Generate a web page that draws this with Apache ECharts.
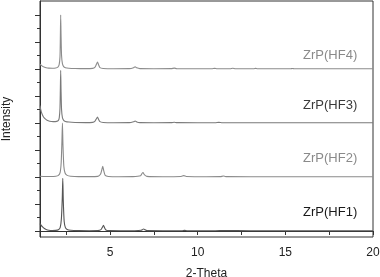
<!DOCTYPE html>
<html><head><meta charset="utf-8">
<script src="https://cdn.jsdelivr.net/npm/echarts@6/dist/echarts.min.js"></script>
<style>html,body{margin:0;padding:0;background:#fff}#c{width:380px;height:277px}</style>
</head><body><div id="c"></div>
<script>
// Series names / labels
const seriesNames = ['ZrP(HF1)', 'ZrP(HF2)', 'ZrP(HF3)', 'ZrP(HF4)'];
// Vertical offsets used to stack the patterns (intensity units)
const offsets = [0, 4, 8, 12];
// X tick labels
const xTickLabels = [5, 10, 15, 20];
const xTicks = [2.5, 5, 7.5, 10, 12.5, 15, 17.5, 20];

// 2-Theta and intensity (relative to each pattern's baseline)
const hf1X = [1.0, 1.08, 1.16, 1.25, 1.35, 1.5, 1.7, 1.9, 2.05, 2.15, 2.22, 2.27, 2.3, 2.33, 2.38, 2.45, 2.55, 2.75, 3.2, 3.8, 4.3, 4.48, 4.56, 4.62, 4.68, 4.76, 4.95, 5.6, 6.4, 6.78, 6.86, 6.92, 6.98, 7.1, 8.0, 9.1, 9.25, 9.4, 11.0, 11.5, 13.0, 16.0, 20.0];
const hf1Y = [0.55, 0.4, 0.28, 0.18, 0.11, 0.06, 0.04, 0.05, 0.1, 0.25, 0.9, 2.4, 3.9, 2.2, 0.7, 0.25, 0.12, 0.06, 0.03, 0.02, 0.03, 0.1, 0.28, 0.42, 0.25, 0.08, 0.03, 0.02, 0.02, 0.05, 0.12, 0.15, 0.1, 0.03, 0.02, 0.02, 0.05, 0.02, 0.02, 0.04, 0.02, 0.02, 0.02];

const hf2X = [1.0, 1.3, 1.6, 1.9, 2.05, 2.15, 2.21, 2.25, 2.28, 2.31, 2.36, 2.43, 2.55, 2.75, 3.2, 3.8, 4.3, 4.45, 4.52, 4.58, 4.64, 4.72, 4.9, 5.5, 6.3, 6.74, 6.82, 6.88, 6.95, 7.1, 8.0, 9.05, 9.2, 9.35, 10.5, 11.3, 11.46, 11.6, 13.0, 16.0, 20.0];
const hf2Y = [0.06, 0.04, 0.04, 0.06, 0.12, 0.35, 1.1, 2.6, 4.0, 2.4, 0.8, 0.3, 0.12, 0.06, 0.03, 0.03, 0.05, 0.2, 0.5, 0.8, 0.45, 0.12, 0.04, 0.02, 0.03, 0.1, 0.26, 0.33, 0.18, 0.05, 0.02, 0.04, 0.1, 0.04, 0.02, 0.03, 0.07, 0.03, 0.02, 0.02, 0.02];

const hf3X = [1.0, 1.05, 1.1, 1.2, 1.3, 1.4, 1.55, 1.75, 1.95, 2.05, 2.1, 2.14, 2.16, 2.18, 2.2, 2.23, 2.28, 2.35, 2.45, 2.65, 3.0, 3.6, 4.0, 4.14, 4.22, 4.28, 4.34, 4.42, 4.6, 5.2, 6.1, 6.34, 6.43, 6.52, 6.7, 7.5, 8.5, 8.66, 8.8, 10.0, 11.0, 11.2, 11.4, 12.5, 16.0, 20.0];
const hf3Y = [1.3, 0.95, 0.72, 0.45, 0.3, 0.2, 0.13, 0.1, 0.12, 0.2, 0.4, 1.1, 2.4, 3.9, 2.5, 1.0, 0.4, 0.2, 0.12, 0.07, 0.04, 0.03, 0.05, 0.14, 0.32, 0.45, 0.28, 0.1, 0.04, 0.02, 0.03, 0.1, 0.15, 0.08, 0.03, 0.02, 0.03, 0.06, 0.03, 0.02, 0.02, 0.05, 0.02, 0.02, 0.02, 0.02];

const hf4X = [1.0, 1.1, 1.2, 1.35, 1.5, 1.7, 1.9, 2.02, 2.09, 2.14, 2.16, 2.18, 2.2, 2.23, 2.28, 2.35, 2.45, 2.65, 3.0, 3.6, 4.0, 4.14, 4.22, 4.28, 4.34, 4.42, 4.6, 5.2, 6.1, 6.34, 6.43, 6.52, 6.7, 7.5, 8.5, 8.66, 8.8, 10.8, 10.97, 11.1, 11.85, 12.0, 12.15, 13.2, 13.3, 13.4, 15.3, 15.4, 15.5, 17.0, 20.0];
const hf4Y = [0.35, 0.25, 0.16, 0.1, 0.07, 0.06, 0.08, 0.14, 0.3, 0.9, 2.2, 4.0, 2.6, 1.0, 0.4, 0.18, 0.1, 0.06, 0.04, 0.03, 0.05, 0.14, 0.36, 0.52, 0.32, 0.1, 0.04, 0.02, 0.03, 0.1, 0.17, 0.09, 0.03, 0.02, 0.03, 0.07, 0.03, 0.02, 0.05, 0.02, 0.02, 0.06, 0.02, 0.02, 0.05, 0.02, 0.02, 0.04, 0.02, 0.02, 0.02];

const xs = [hf1X, hf2X, hf3X, hf4X];
const ys = [hf1Y, hf2Y, hf3Y, hf4Y];
const lineColors = ['#555555', '#8a8a8a', '#7a7a7a', '#8c8c8c'];
const labelColors = ['#1a1a1a', '#8a8a8a', '#3a3a3a', '#8a8a8a'];
const labelAt = [[19.1, 1.35], [19.1, 5.35], [19.1, 9.3], [19.1, 13.0]];
const FONT = 'Liberation Sans, Arial, sans-serif';

const series = xs.map((xArr, i) => ({
  type: 'line',
  name: seriesNames[i],
  data: xArr.map((x, j) => [x, ys[i][j] + offsets[i]]),
  showSymbol: false,
  symbol: 'none',
  smooth: 0.2,
  lineStyle: { color: lineColors[i], width: 1.1 },
  silent: true,
  animation: false,
  markPoint: {
    symbol: 'circle', symbolSize: 0,
    data: [{ coord: labelAt[i], value: seriesNames[i] }],
    label: { show: true, position: 'left', distance: 0, formatter: seriesNames[i],
      color: labelColors[i], fontSize: 13, fontFamily: FONT }
  }
}));

const chart = echarts.init(document.getElementById('c'), null, { renderer: 'canvas' });
chart.setOption({
  animation: false,
  backgroundColor: '#fff',
  grid: { left: 40, right: 7, top: 1, bottom: 40, show: true, borderColor: '#333', borderWidth: 1,
    backgroundColor: 'transparent', containLabel: false, outerBoundsMode: 'none' },
  xAxis: {
    type: 'value', min: 1, max: 20,
    name: '2-Theta', nameLocation: 'middle', nameGap: 31,
    nameTextStyle: { color: '#222', fontSize: 12, fontFamily: FONT },
    axisLine: { lineStyle: { color: '#333', width: 1 } },
    axisTick: { show: true, length: 4, customValues: xTicks, lineStyle: { color: '#333' } },
    axisLabel: { customValues: xTickLabels, color: '#222', fontSize: 12, margin: 10, fontFamily: FONT },
    splitLine: { show: false }
  },
  yAxis: [{
    type: 'value', min: -0.444, max: 17.04,
    name: 'Intensity', nameLocation: 'middle', nameGap: 27, nameRotate: 90,
    nameTextStyle: { color: '#222', fontSize: 12, fontFamily: FONT },
    axisLine: { show: true, lineStyle: { color: '#333', width: 1 } },
    axisTick: { show: true, length: 5, customValues: [0, 2, 4, 6, 8, 10, 12, 14, 16], lineStyle: { color: '#333' } },
    axisLabel: { show: false },
    splitLine: { show: false }
  }, {
    type: 'value', min: -0.444, max: 17.04, position: 'left', offset: 0,
    axisLine: { show: false },
    axisTick: { show: true, length: 3, customValues: [1, 3, 5, 7, 9, 11, 13, 15], lineStyle: { color: '#333' } },
    axisLabel: { show: false },
    splitLine: { show: false }
  }],
  series: series
});
</script></body></html>
